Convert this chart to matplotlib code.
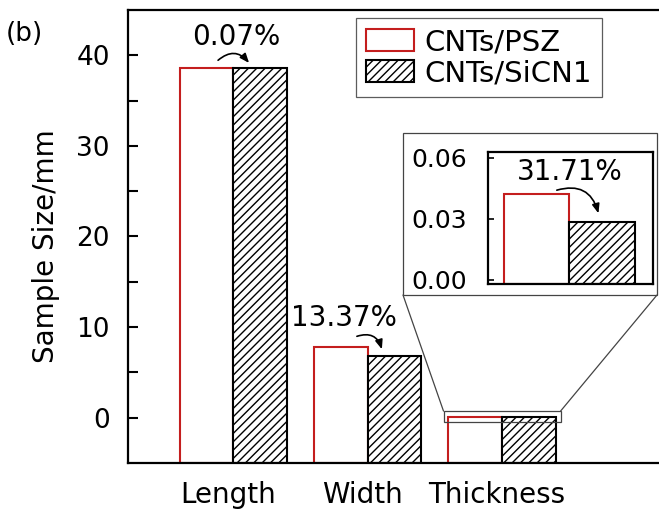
import matplotlib
matplotlib.use('Agg')
import matplotlib.pyplot as plt
import matplotlib.transforms as mtransforms
from matplotlib.patches import Rectangle, ConnectionPatch

categories = ['Length', 'Width', 'Thickness']
psz = [38.58, 7.80, 0.042]
sicn1 = [38.55, 6.76, 0.0287]
changes = ['0.07%', '13.37%', '31.71%']
y_ticks = [0, 10, 20, 30, 40]
inset_ticks = [0.00, 0.03, 0.06]

red = '#C41E1E'
plt.rcParams['font.family'] = 'DejaVu Sans'
plt.rcParams['hatch.linewidth'] = 1.0

fig = plt.figure(figsize=(6.59, 5.09), dpi=100)
ax = fig.add_axes([0.1942, 0.0904, 0.8058, 0.8900])
ax.set_zorder(0)

x = [1, 2, 3]
w = 0.4
ymin, ymax = -5, 45
b1 = ax.bar([i - w / 2 for i in x], [v - ymin for v in psz], w, bottom=ymin,
            facecolor='white', edgecolor=red, lw=1.5, label='CNTs/PSZ')
b2 = ax.bar([i + w / 2 for i in x], [v - ymin for v in sicn1], w, bottom=ymin,
            facecolor='white', edgecolor='black', lw=1.5, hatch='////', label='CNTs/SiCN1')
ax.set_xlim(0.215, 4.17)
ax.set_ylim(ymin, ymax)
ax.set_yticks(y_ticks)
ax.set_yticks([5, 15, 25, 35], minor=True)
ax.set_xticks(x)
ax.set_xticklabels(categories, fontsize=20)
ax.tick_params(axis='x', length=0, pad=13)
shift = mtransforms.ScaledTranslation(-5 / 100, 0, fig.dpi_scale_trans)
for lab in ax.get_xticklabels():
    lab.set_transform(lab.get_transform() + shift)
ax.tick_params(axis='y', which='both', direction='in', length=7, width=1.5, labelsize=19, pad=13)
for s in ['left', 'bottom', 'top']:
    ax.spines[s].set_linewidth(1.6)
ax.spines['right'].set_visible(False)
ax.set_ylabel('Sample Size/mm', fontsize=20)
ax.yaxis.set_label_coords(-0.128, 0.479)

fig.text(0.008, 1 - 34 / 509, '(b)', fontsize=19, va='center')

leg = ax.legend(loc='upper left', bbox_to_anchor=(356 / 659, 1 - 18 / 509),
                bbox_transform=fig.transFigure, borderaxespad=0, fontsize=21,
                fancybox=False, edgecolor='#333333', handlelength=1.65, handleheight=0.75,
                handletextpad=0.35, labelspacing=0.1, borderpad=0.35)
leg.get_frame().set_linewidth(0.9)

arrow = dict(arrowstyle='-|>,head_length=0.55,head_width=0.22', color='black', lw=1.2,
             connectionstyle='arc3,rad=-0.5', shrinkA=0, shrinkB=0)
ax.text(1.02, 42.0, changes[0], fontsize=20, ha='center', va='center')
ax.annotate('', xy=(1.117, 39.15), xytext=(0.886, 39.45), arrowprops=arrow)
ax.text(1.826, 11.0, changes[1], fontsize=20, ha='center', va='center')
ax.annotate('', xy=(2.106, 7.55), xytext=(1.92, 8.98), arrowprops=arrow)

# zoom box on thickness bars
ax.add_patch(Rectangle((2.565, -0.45), 0.872, 1.18, facecolor='none',
                       edgecolor='#444444', lw=0.9, zorder=5))

# inset background
bx0, bx1, by0, by1 = 403 / 659, 657 / 659, 1 - 295 / 509, 1 - 133 / 509
fig.add_artist(Rectangle((bx0, by0), bx1 - bx0, by1 - by0, transform=fig.transFigure,
                         facecolor='white', edgecolor='#444444', lw=0.9, zorder=2))
for xa, xb in [(2.565, bx0), (3.437, bx1)]:
    fig.add_artist(ConnectionPatch(xyA=(xa, 0.73), coordsA=ax.transData,
                                   xyB=(xb, by0), coordsB=fig.transFigure,
                                   color='#444444', lw=0.9, zorder=2))

ins = fig.add_axes([487.7 / 659, 1 - 284 / 509, 165 / 659, 132.3 / 509])
ins.set_zorder(3)
imin = -0.002
ins.bar(3 - w / 2, psz[2] - imin, w, bottom=imin, facecolor='white', edgecolor=red, lw=1.5)
ins.bar(3 + w / 2, sicn1[2] - imin, w, bottom=imin, facecolor='white', edgecolor='black',
        lw=1.5, hatch='////')
ins.set_xlim(2.5, 3.51)
ins.set_ylim(imin, 0.063)
ins.set_xticks([])
ins.set_yticks(inset_ticks)
ins.set_yticklabels([f'{t:.2f}' for t in inset_ticks])
ins.tick_params(axis='y', direction='in', length=4, width=1.2, labelsize=18, pad=15)
for s in ins.spines.values():
    s.set_linewidth(1.6)
ins.text(3.004, 0.053, changes[2], fontsize=20, ha='center', va='center')
ins.annotate('', xy=(3.178, 0.0327), xytext=(2.923, 0.0441), arrowprops=arrow)

fig.savefig('out.png', dpi=100)
